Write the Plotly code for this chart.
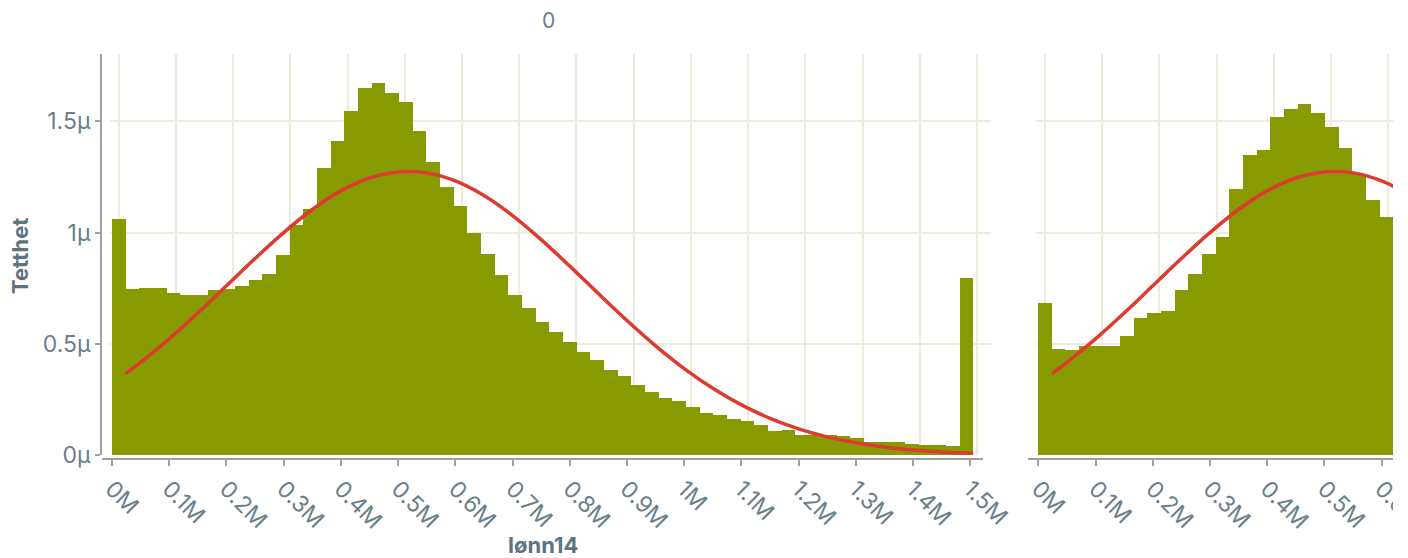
import numpy as np
import plotly.graph_objects as go

# ---------------------------------------------------------------------------
# Data: density histogram of lønn14 split into two groups (0 and 1)
# ---------------------------------------------------------------------------
BIN_WIDTH = 23890  # NOK per bin

# density per bin, in units of 1e-6 (μ)
density_group0 = [
    1.057, 0.747, 0.748, 0.751, 0.729, 0.717, 0.720, 0.739, 0.747, 0.760,
    0.787, 0.814, 0.899, 1.034, 1.104, 1.290, 1.408, 1.546, 1.649, 1.672,
    1.627, 1.585, 1.456, 1.317, 1.205, 1.119, 0.995, 0.904, 0.810, 0.720,
    0.661, 0.598, 0.554, 0.509, 0.464, 0.428, 0.383, 0.356, 0.316, 0.284,
    0.257, 0.244, 0.217, 0.190, 0.177, 0.159, 0.150, 0.136, 0.109, 0.114,
    0.091, 0.091, 0.088, 0.086, 0.078, 0.060, 0.060, 0.060, 0.050, 0.046,
    0.046, 0.042, 0.796,
]
density_group1 = [
    0.684, 0.475, 0.471, 0.491, 0.491, 0.491, 0.535, 0.615, 0.637, 0.647,
    0.741, 0.813, 0.903, 0.977, 1.196, 1.348, 1.367, 1.516, 1.551, 1.577,
    1.537, 1.474, 1.377, 1.260, 1.146, 1.070,
]

# fitted normal density (same curve in both panels), x in millions NOK
curve_x_million = [
    0.024, 0.05, 0.10, 0.15, 0.20, 0.25, 0.30, 0.35, 0.40, 0.45, 0.50,
    0.55, 0.60, 0.65, 0.70, 0.75, 0.80, 0.85, 0.90, 0.95, 1.00, 1.05,
    1.10, 1.15, 1.20, 1.25, 1.30, 1.35, 1.40, 1.45, 1.505,
]
curve_density = [
    0.3668, 0.4168, 0.5225, 0.6386, 0.7608, 0.8835, 1.0000, 1.1037, 1.1872,
    1.2449, 1.2725, 1.2680, 1.2317, 1.1661, 1.0763, 0.9684, 0.8494, 0.7261,
    0.6053, 0.4917, 0.3894, 0.3007, 0.2262, 0.1659, 0.1187, 0.0827, 0.0562,
    0.0372, 0.0241, 0.0151, 0.0088,
]

x_tick_values = [0, 100000, 200000, 300000, 400000, 500000, 600000, 700000,
                 800000, 900000, 1000000, 1100000, 1200000, 1300000,
                 1400000, 1500000]
x_tick_text = ["0M", "0.1M", "0.2M", "0.3M", "0.4M", "0.5M", "0.6M", "0.7M",
               "0.8M", "0.9M", "1M", "1.1M", "1.2M", "1.3M", "1.4M", "1.5M"]
y_tick_values = [0, 0.5e-6, 1.0e-6, 1.5e-6]
y_tick_text = ["0μ", "0.5μ", "1μ", "1.5μ"]

panel_titles = ["0"]
x_title = "lønn14"
y_title = "Tetthet"

# ---------------------------------------------------------------------------
# Styling / geometry
# ---------------------------------------------------------------------------
W, H = 1393, 558
PX_PER_NOK = 572.2 / 1e6
FONT = "Inter"
BAR_COLOR = "#879A00"
CURVE_COLOR = "#DD3A30"
GRID_COLOR = "#F1EBDD"
AXIS_COLOR = "#A0A0A0"
TICK_FONT_COLOR = "#6B7F8A"
TITLE_COLOR = "#5E7480"
Y_RANGE = [0, 1.8e-6]


def fx(px):
    return px / W


def fy(py):
    return 1 - py / H


def x_range(left_px, right_px, zero_px):
    return [(left_px - zero_px) / PX_PER_NOK, (right_px - zero_px) / PX_PER_NOK]


Y_DOMAIN = [fy(455.3), fy(54.4)]
X_LINE_POS = fy(459.3)

centers0 = (np.arange(len(density_group0)) + 0.5) * BIN_WIDTH
centers1 = (np.arange(len(density_group1)) + 0.5) * BIN_WIDTH
curve_x = np.array(curve_x_million) * 1e6
curve_y = np.array(curve_density) * 1e-6

fig = go.Figure()

# grid-only subplots (drawn underneath)
fig.add_trace(go.Scatter(x=[], y=[], xaxis="x", yaxis="y", showlegend=False, hoverinfo="skip"))
# group 0 data
fig.add_trace(go.Bar(x=centers0, y=np.array(density_group0) * 1e-6, width=BIN_WIDTH,
                     marker=dict(color=BAR_COLOR, line=dict(width=0)),
                     xaxis="x2", yaxis="y2", showlegend=False))
fig.add_trace(go.Scatter(x=curve_x, y=curve_y, mode="lines",
                         line=dict(color=CURVE_COLOR, width=3.5, shape="spline"),
                         xaxis="x2", yaxis="y2", showlegend=False))
fig.add_trace(go.Scatter(x=[], y=[], xaxis="x3", yaxis="y3", showlegend=False, hoverinfo="skip"))
# group 1 data
fig.add_trace(go.Bar(x=centers1, y=np.array(density_group1) * 1e-6, width=BIN_WIDTH,
                     marker=dict(color=BAR_COLOR, line=dict(width=0)),
                     xaxis="x4", yaxis="y4", showlegend=False))
fig.add_trace(go.Scatter(x=curve_x, y=curve_y, mode="lines",
                         line=dict(color=CURVE_COLOR, width=3.5, shape="spline"),
                         xaxis="x4", yaxis="y4", showlegend=False))

grid_x = dict(showgrid=True, gridcolor=GRID_COLOR, gridwidth=2, tickvals=x_tick_values,
              showticklabels=False, ticks="", showline=False, zeroline=False,
              automargin=False, fixedrange=True)
grid_y = dict(showgrid=True, gridcolor=GRID_COLOR, gridwidth=2, tickvals=y_tick_values,
              showticklabels=False, ticks="", showline=False, zeroline=False,
              automargin=False, range=Y_RANGE, domain=Y_DOMAIN, fixedrange=True)
tick_font = dict(family=FONT, size=23, color=TICK_FONT_COLOR)
data_x = dict(showgrid=False, zeroline=False, showline=True, linecolor=AXIS_COLOR,
              linewidth=2, ticks="outside", ticklen=6, tickwidth=2, tickcolor=AXIS_COLOR,
              tickvals=x_tick_values, ticktext=x_tick_text, tickangle=45,
              tickfont=tick_font, anchor="free", position=X_LINE_POS,
              ticklabeloverflow="allow", automargin=False, fixedrange=True)

fig.update_layout(
    width=W, height=H,
    margin=dict(l=0, r=0, t=0, b=0, pad=0),
    template="none",
    paper_bgcolor="white",
    plot_bgcolor="rgba(0,0,0,0)",
    bargap=0,
    font=dict(family=FONT, color=TICK_FONT_COLOR),
    xaxis=dict(grid_x, domain=[fx(109.5), fx(991)], range=x_range(109.5, 991, 118.7), anchor="y"),
    yaxis=dict(grid_y, anchor="x"),
    xaxis2=dict(data_x, domain=[fx(102), fx(983)], range=x_range(102, 983, 112)),
    yaxis2=dict(showgrid=False, zeroline=False, showline=True, linecolor=AXIS_COLOR,
                linewidth=2, ticks="outside", ticklen=5, tickwidth=2, tickcolor=AXIS_COLOR,
                tickvals=y_tick_values, ticktext=y_tick_text, tickfont=tick_font,
                range=Y_RANGE, domain=Y_DOMAIN, anchor="x2", automargin=False,
                fixedrange=True),
    xaxis3=dict(grid_x, domain=[fx(1035.7), 1], range=x_range(1035.7, W, 1045.0), anchor="y3"),
    yaxis3=dict(grid_y, anchor="x3"),
    xaxis4=dict(data_x, domain=[fx(1028.3), 1], range=x_range(1028.3, W, 1038.3)),
    yaxis4=dict(showgrid=False, zeroline=False, showline=False, ticks="",
                showticklabels=False, range=Y_RANGE, domain=Y_DOMAIN, anchor="x4",
                automargin=False, fixedrange=True),
    annotations=[
        dict(text=panel_titles[0], x=fx(548), y=fy(21), xref="paper", yref="paper",
             showarrow=False, xanchor="center", yanchor="middle",
             font=dict(family=FONT, size=21, color=TICK_FONT_COLOR)),
        dict(text=x_title, x=fx(542.5), y=fy(545), xref="paper", yref="paper",
             showarrow=False, xanchor="center", yanchor="middle",
             font=dict(family=FONT, size=22, color=TITLE_COLOR, weight="bold")),
        dict(text=y_title, x=fx(20), y=fy(256), xref="paper", yref="paper",
             showarrow=False, xanchor="center", yanchor="middle", textangle=-90,
             font=dict(family=FONT, size=22, color=TITLE_COLOR, weight="bold")),
    ],
)

fig.write_html("out.html", config={"displayModeBar": False})
